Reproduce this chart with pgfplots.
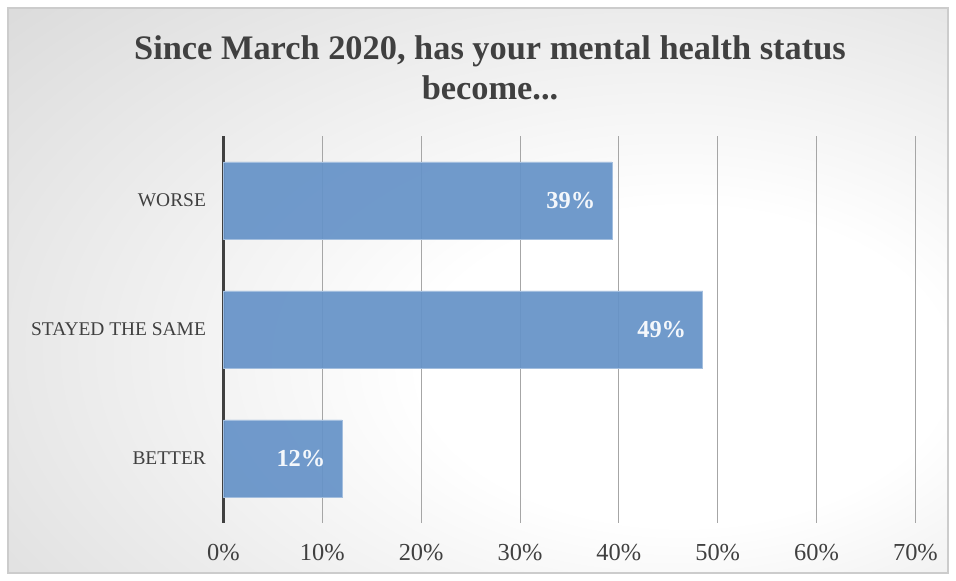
\documentclass[border=0pt]{standalone}
\usepackage{pgfplots}
\pgfplotsset{compat=1.18}
\usepackage{fontspec}
\setmainfont{Liberation Serif}
\definecolor{barblue}{HTML}{6693C8}
\definecolor{txt}{HTML}{404040}
\pgfdeclareradialshading{bgshade}{\pgfpoint{13bp}{-8bp}}{color(0bp)=(white); color(14bp)=(white); color(62bp)=(black!23); color(90bp)=(black!30)}
\begin{document}
\begin{tikzpicture}[x=1bp,y=1bp]
\path[use as bounding box] (0,0) rectangle (956,581);
\shadedraw[shading=bgshade, draw=black!20, line width=1.5bp] (8,8) rectangle (948,573);
\node[font=\fontsize{34.5}{40}\selectfont\bfseries, text=txt, align=center] at (490,513) {Since March 2020, has your mental health status\\become...};
\begin{axis}[
  at={(226,45)}, anchor=south west, scale only axis,
  width=692bp, height=387bp,
  xbar, bar width=77bp,
  xmin=0, xmax=70, ymin=-0.5, ymax=2.5,
  ytick={0,1,2}, yticklabels={BETTER,STAYED THE SAME,WORSE},
  xtick={0,10,...,70},
  /pgf/number format/assume math mode=true,
  xticklabel={\pgfmathprintnumber{\tick}\%},
  xmajorgrids, major grid style={color=black!35, line width=0.8bp},
  separate axis lines,
  axis x line*=bottom, axis y line*=left,
  x axis line style={draw=none},
  y axis line style={draw=txt, line width=3bp, -},
  major tick length=0pt,
  xticklabel style={font=\fontsize{24.5}{28}\selectfont, text=txt, yshift=-18bp},
  yticklabel style={font=\fontsize{19.5}{23}\selectfont, text=txt, xshift=-14bp},
  point meta=explicit,
  nodes near coords={\pgfmathprintnumber{\pgfplotspointmeta}\%},
  every node near coord/.append style={anchor=east, xshift=-13bp, font=\fontsize{24.5}{28}\selectfont\bfseries, text=white},
  clip=false,
]
\addplot[fill=barblue, draw=barblue!60!white, fill opacity=0.93, line width=0.8bp]
  coordinates {(12.0,0) [12] (48.5,1) [49] (39.3,2) [39]};
\end{axis}
\end{tikzpicture}
\end{document}
